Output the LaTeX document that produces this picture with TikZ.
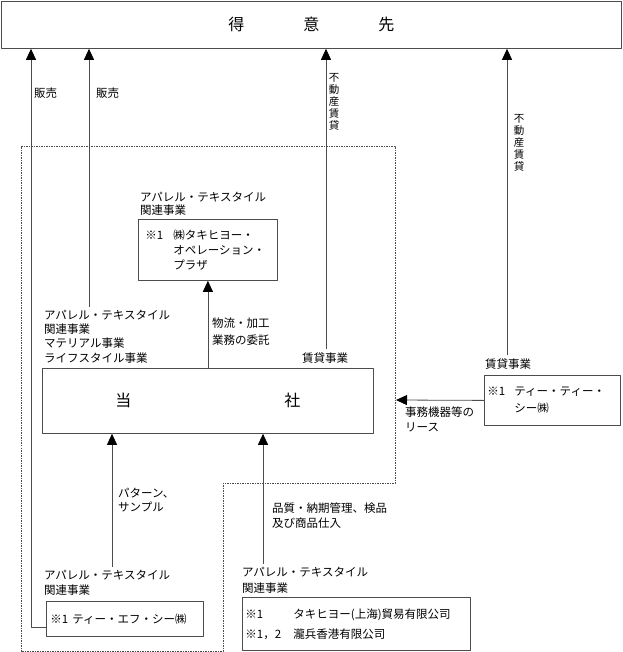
\documentclass[tikz,border=0pt]{standalone}
\usepackage{fontspec}
\setmainfont{Noto Sans CJK JP}
\usetikzlibrary{arrows.meta}
\definecolor{linec}{gray}{0.3}
\newcommand{\lbfont}{\fontsize{11.5}{15}\selectfont}
\newcommand{\bigfont}{\fontsize{16}{16}\selectfont}

\begin{document}
\begin{tikzpicture}[x=1pt,y=-1pt,line join=round,font=\lbfont,
    box/.style={draw=linec,line width=0.8pt,inner sep=0pt,anchor=north west},
    lbl/.style={inner xsep=0pt,inner ysep=3pt,anchor=north west,align=left},
    arr/.style={draw=linec,line width=0.8pt,-{Triangle[length=11pt,width=10pt,color=black]}},
    vlbl/.style={inner sep=0pt,align=center,font=\fontsize{10.5}{12}\selectfont}]
  \useasboundingbox (0,0) rectangle (622,652);
  % boxes
  \node[box,minimum width=620pt,minimum height=47pt,font=\bigfont] (cust) at (1,1) {得\hspace{59pt}意\hspace{59pt}先};
  \node[box,minimum width=331pt,minimum height=65pt,font=\bigfont] (company) at (42,368) {当\hspace{153pt}社};
  \node[box,text width=125pt,inner xsep=7pt,minimum height=61pt,align=left] (tko) at (138,219)
    {\makebox[28pt][l]{※1}㈱タキヒヨー・\\\hspace*{28pt}オペレーション・\\\hspace*{28pt}プラザ};
  \node[box,text width=130pt,inner xsep=3pt,minimum height=50pt,align=left] (ttc) at (484,375)
    {\makebox[27pt][l]{※1}ティー・ティー・\\[2pt]\hspace*{27pt}シー㈱};
  \node[box,text width=149pt,inner xsep=4pt,minimum height=35pt,align=left] (tfc) at (46,601)
    {\makebox[22pt][l]{※1}ティー・エフ・シー㈱};
  \node[box,text width=222pt,inner xsep=3pt,minimum height=53pt,align=left] (sh) at (242,597)
    {\makebox[48pt][l]{※1}タキヒヨー(上海)貿易有限公司\\[5pt]\makebox[48pt][l]{※1，2}瀧兵香港有限公司};
  % labels
  \node[lbl,anchor=west] (sale1) at (34,93) {販売};
  \node[lbl,anchor=west] (sale2) at (96,93) {販売};
  \node[vlbl] (estate1) at (334,101.5) {不\\動\\産\\賃\\貸};
  \node[vlbl] (estate2) at (519,142.5) {不\\動\\産\\賃\\貸};
  \node[lbl] (lbtko) at (140,188.8) {アパレル・テキスタイル\\[-2pt]関連事業};
  \node[lbl,font=\fontsize{11.5}{14.3}\selectfont] (lbmain) at (44,306.8)
    {アパレル・テキスタイル\\関連事業\\マテリアル事業\\ライフスタイル事業};
  \node[lbl] (lbflow) at (212,314.8) {物流・加工\\[2pt]業務の委託};
  \node[lbl,anchor=west] (lbrent) at (302,358) {賃貸事業};
  \node[lbl,anchor=west] (lbttc) at (485,364) {賃貸事業};
  \node[lbl] (lblease) at (405,403.8) {事務機器等の\\リース};
  \node[lbl] (lbpat) at (118,484.8) {パターン、\\[-1pt]サンプル};
  \node[lbl] (lbqc) at (272,499.8) {品質・納期管理、検品\\及び商品仕入};
  \node[lbl] (lbtfc) at (44,567) {アパレル・テキスタイル\\関連事業};
  \node[lbl] (lbsh) at (242,563.8) {アパレル・テキスタイル\\[1pt]関連事業};
  % group outline
  \draw[linec,line width=0.7pt,dash pattern=on 1.5pt off 1pt] (21,146) -- (395,146) -- (395,483)
    -- (223,483) -- (223,651) -- (21,651) -- cycle;
  \coordinate (lease) at (396,400);
  % connectors
  \draw[arr] ([yshift=-8pt]tfc.west) -| (31,0 |- cust.south);
  \draw[arr] (89,0 |- lbmain.north) -- (89,0 |- cust.south);
  \draw[arr] (326,0 |- lbrent.north) -- (326,0 |- cust.south);
  \draw[arr] (507,0 |- lbttc.north) -- (507,0 |- cust.south);
  \draw[arr] (company.north) -- (tko.south);
  \draw[arr] (112,0 |- lbtfc.north) -- (112,0 |- company.south);
  \draw[arr] (263,0 |- lbsh.north) -- (263,0 |- company.south);
  \draw[arr] (ttc.west) -- (lease);
\end{tikzpicture}
\end{document}
